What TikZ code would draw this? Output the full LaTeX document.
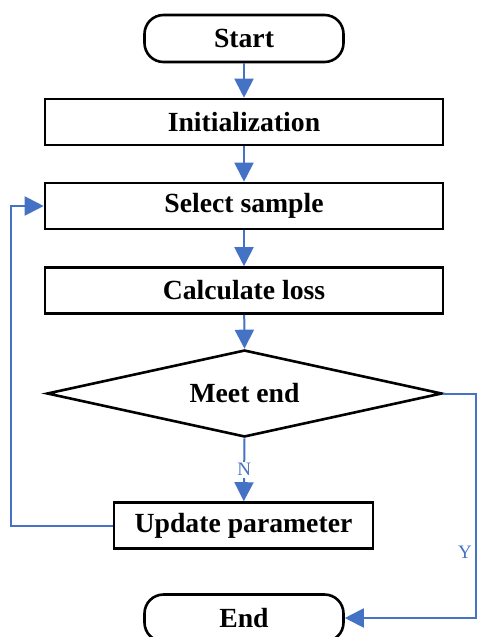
\documentclass[tikz,border=0pt]{standalone}
\usepackage{fontspec}
\setmainfont{Liberation Serif}
\usetikzlibrary{shapes.geometric,arrows.meta}
\definecolor{flowblue}{HTML}{4472C4}
\begin{document}
\begin{tikzpicture}[x=1pt,y=-1pt]
  % Styling
  \tikzset{
    box/.style={
      rectangle,
      minimum width=398pt,
      minimum height=46pt,
      draw=black,
      line width=2.6pt,
      fill=white,
      font=\fontsize{27.7}{32}\selectfont\bfseries
    },
    terminal/.style={
      box,
      rounded corners=19pt,
      minimum width=199pt,
      minimum height=47pt
    },
    decision/.style={
      box,
      diamond,
      aspect=4.5,
      inner sep=0pt,
      minimum width=395pt,
      minimum height=87pt
    },
    arrow/.style={
      -{Triangle[length=19pt,width=19pt]},
      line width=2pt,
      flowblue
    },
    label/.style={
      font=\fontsize{19}{22}\selectfont,
      text=flowblue,
      inner sep=2pt
    }
  }

  \useasboundingbox (0,0) rectangle (477,637);
  \clip (0,0) rectangle (477,637);

  % ===== Main column =====
  \node[terminal] (start) at (244,38.5) {Start};
  \node[box] (init) at (244,122) {Initialization};
  \node[box] (select) at (244,206) {Select sample};
  \node[box] (calc) at (244,290.5) {Calculate loss};
  \node[decision] (meet) at (244.5,393.5) {Meet end};
  \node[box, minimum width=259pt] (update) at (243.5,525.5) {Update parameter};
  \node[terminal] (finish) at (244,618) {End};

  % Arrows down the column
  \draw[arrow] (start) -- (init);
  \draw[arrow] (init) -- (select);
  \draw[arrow] (select) -- (calc);
  \draw[arrow] (calc) -- (meet.north);
  \draw[arrow] (meet.south) -- node[label, fill=white] {N} (update);

  % ===== Loop back =====
  \coordinate (loopL) at (11,525.5);
  \draw[arrow] (update.west) -- (loopL) |- (select.west);

  % ===== Exit =====
  \coordinate (loopR) at (476,393.5);
  \draw[arrow] (meet.east) -- (loopR) |- (finish.east);
  \node[label, anchor=east] (yes) at (474,552) {Y};

\end{tikzpicture}
\end{document}
